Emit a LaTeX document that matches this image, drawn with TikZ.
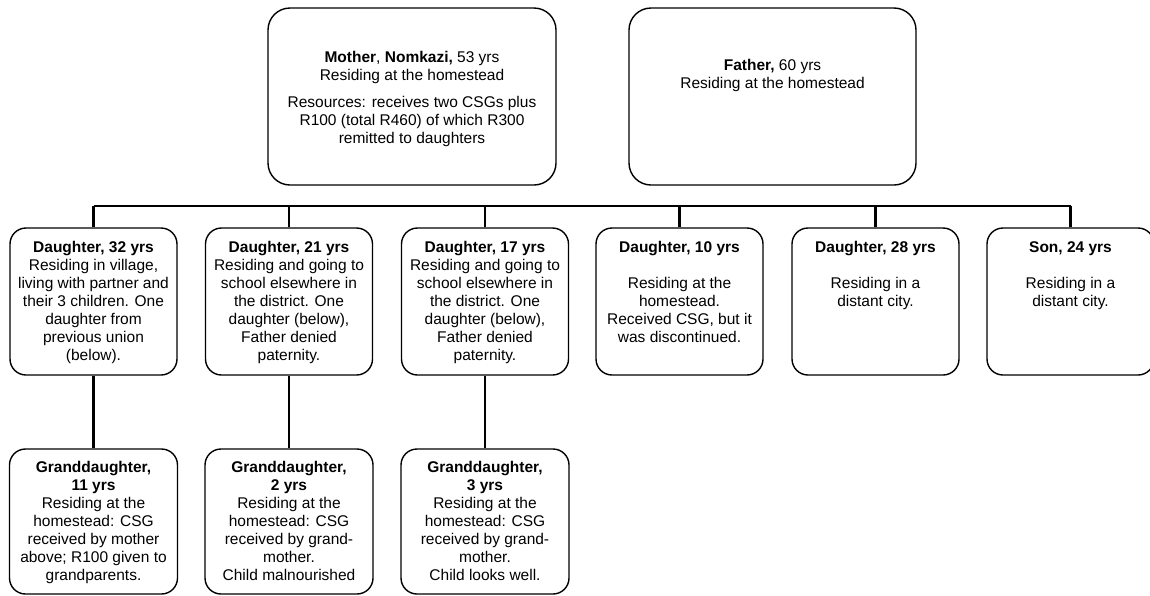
\documentclass[tikz,border=0pt]{standalone}
\usepackage{fontspec}
\setmainfont{Liberation Sans}
\newcommand\bxt[4]{\parbox[c][#1][t]{#2}{\centering\vspace*{#3}\strut #4}}
\tikzset{
  basebox/.style={draw, line width=1.4pt, inner sep=0pt, fill=white},
  topbox/.style={basebox, rounded corners=22pt, minimum width=288pt, minimum height=177pt},
  kidbox/.style={basebox, rounded corners=16pt, minimum width=167pt, minimum height=147pt},
  gkidbox/.style={basebox, rounded corners=16pt, minimum width=168pt, minimum height=145pt},
  conn/.style={line width=2.6pt}
}
\begin{document}
\begin{tikzpicture}[x=1pt,y=-1pt,font=\fontsize{15.5}{18}\selectfont]
\useasboundingbox (0,0) rectangle (1150,595);
% parents
\node[topbox] (mother) at (412,96.5) {\bxt{177pt}{284pt}{42pt}{\textbf{Mother}, \textbf{Nomkazi,} 53 yrs\\Residing at the homestead\\[9pt]Resources: receives two CSGs plus\\R100 (total R460) of which R300\\remitted to daughters}};
\node[topbox, minimum width=287pt] (father) at (772.5,96.5) {\bxt{177pt}{284pt}{50pt}{\textbf{Father,} 60 yrs\\Residing at the homestead}};
% children
\node[kidbox] (c1) at (93.5,301.5) {\bxt{147pt}{165pt}{12pt}{\textbf{Daughter, 32 yrs}\\Residing in village,\\living with partner and\\their 3 children. One\\daughter from\\previous union\\(below).}};
\node[kidbox] (c2) at (289,301.5) {\bxt{147pt}{165pt}{12pt}{\textbf{Daughter, 21 yrs}\\Residing and going to\\school elsewhere in\\the district. One\\daughter (below),\\Father denied\\paternity.}};
\node[kidbox] (c3) at (485,301.5) {\bxt{147pt}{165pt}{12pt}{\textbf{Daughter, 17 yrs}\\Residing and going to\\school elsewhere in\\the district. One\\daughter (below),\\Father denied\\paternity.}};
\node[kidbox] (c4) at (679.5,301.5) {\bxt{147pt}{165pt}{12pt}{\textbf{Daughter, 10 yrs}\\[18pt]Residing at the\\homestead.\\Received CSG, but it\\was discontinued.}};
\node[kidbox] (c5) at (875.5,301.5) {\bxt{147pt}{165pt}{12pt}{\textbf{Daughter, 28 yrs}\\[18pt]Residing in a\\distant city.}};
\node[kidbox] (c6) at (1070.5,301.5) {\bxt{147pt}{165pt}{12pt}{\textbf{Son, 24 yrs}\\[18pt]Residing in a\\distant city.}};
% grandchildren
\node[gkidbox] (g1) at (93.5,521.5) {\bxt{145pt}{165pt}{11pt}{\textbf{Granddaughter,}\\\textbf{11 yrs}\\Residing at the\\homestead: CSG\\received by mother\\above; R100 given to\\grandparents.}};
\node[gkidbox] (g2) at (289,521.5) {\bxt{145pt}{165pt}{11pt}{\textbf{Granddaughter,}\\\textbf{2 yrs}\\Residing at the\\homestead: CSG\\received by grand-\\mother.\\Child malnourished}};
\node[gkidbox] (g3) at (485,521.5) {\bxt{145pt}{165pt}{11pt}{\textbf{Granddaughter,}\\\textbf{3 yrs}\\Residing at the\\homestead: CSG\\received by grand-\\mother.\\Child looks well.}};
% connectors
\coordinate (bus) at (0,206);
\draw[conn] (c1.north |- bus) -- (c6.north |- bus);
\foreach \c in {c1,c2,c3,c4,c5,c6}{\draw[conn] (\c.north) -- (\c.north |- bus);}
\draw[conn] (c1.south) -- (g1.north);
\draw[conn] (c2.south) -- (g2.north);
\draw[conn] (c3.south) -- (g3.north);
\end{tikzpicture}
\end{document}
